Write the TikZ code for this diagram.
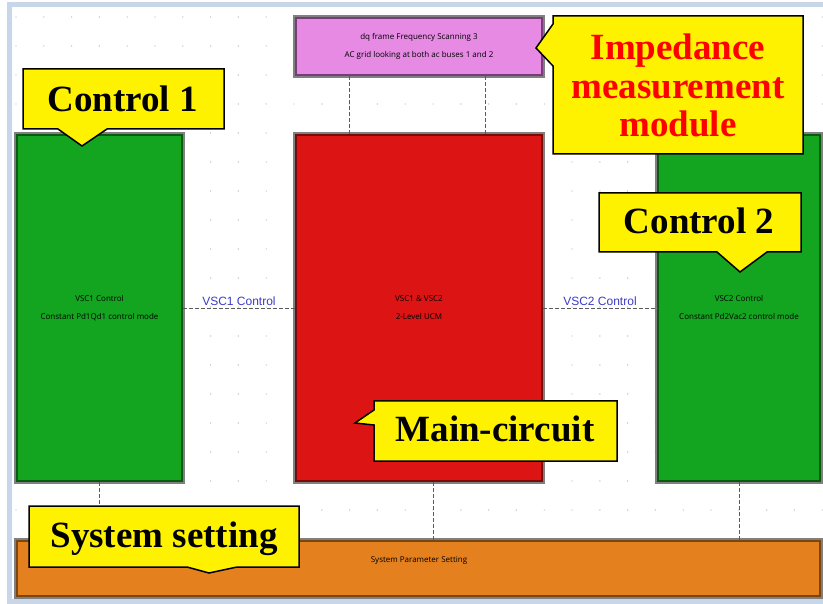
\documentclass[tikz,border=0pt]{standalone}
\usepackage{fontspec}
\setmainfont{Liberation Serif}
\newfontfamily\uifont{Open Sans}
\newfontfamily\arialfont{Liberation Sans}
\definecolor{gfill}{RGB}{20,165,32}
\definecolor{gdark}{RGB}{12,90,18}
\definecolor{rfill}{RGB}{220,20,20}
\definecolor{rdark}{RGB}{120,10,10}
\definecolor{pfill}{RGB}{230,138,228}
\definecolor{pdark}{RGB}{120,60,120}
\definecolor{ofill}{RGB}{228,128,30}
\definecolor{odark}{RGB}{120,70,20}
\definecolor{framec}{RGB}{200,214,234}
\definecolor{lblue}{RGB}{60,60,200}
\definecolor{boxgray}{RGB}{128,128,128}
\definecolor{dotc}{RGB}{185,185,185}
\definecolor{connc}{RGB}{90,90,90}
\begin{document}
\begin{tikzpicture}[x=1pt,y=-1pt,
  blk/.style={rectangle, inner sep=0pt, preaction={draw=boxgray, line width=6pt},
    line width=1.6pt, font=\uifont\fontsize{8}{18}\selectfont, align=center, text=black},
  conn/.style={draw=connc, line width=0.9pt, dash pattern=on 4pt off 2pt},
  lbl/.style={font=\arialfont\fontsize{12}{14}\selectfont, text=lblue, inner sep=1.5pt},
  callout/.style={fill=yellow, draw=black, line width=1.5pt, line join=miter},
  ctext/.style={font=\bfseries\fontsize{37}{38.5}\selectfont, inner sep=0pt},
  small/.style={font=\uifont\fontsize{8}{9}\selectfont, inner sep=0pt}]
\useasboundingbox (0,0) rectangle (823,604);
\fill[white] (0,0) rectangle (823,604);
\draw[framec, line width=5pt] (9.5,4.5) rectangle (845,601.5);
\foreach \i in {0,...,29} {
  \foreach \j in {0,...,20} {
    \fill[dotc] ({16+27.8*\i},{17+29*\j}) circle (0.7pt);
  }
}
% blocks
\node[blk, fill=gfill, draw=gdark, minimum width=165pt, minimum height=346pt] (g1) at (99.5,308)
  {VSC1 Control\\Constant Pd1Qd1 control mode};
\node[blk, fill=rfill, draw=rdark, minimum width=246pt, minimum height=346pt] (red) at (419,308)
  {VSC1 \& VSC2\\2-Level UCM};
\node[blk, fill=gfill, draw=gdark, minimum width=162pt, minimum height=346pt] (g2) at (739,308)
  {VSC2 Control\\Constant Pd2Vac2 control mode};
\node[blk, fill=pfill, draw=pdark, minimum width=246pt, minimum height=57pt] (pink) at (419,46.5)
  {dq frame Frequency Scanning 3\\AC grid looking at both ac buses 1 and 2};
\node[blk, fill=ofill, draw=odark, minimum width=803pt, minimum height=55pt] (org) at (418.5,568.5) {};
\node[small] (ot) at (419,561) {System Parameter Setting};
% connectors
\coordinate (p1) at (349,0);
\coordinate (p2) at (485,0);
\coordinate (m1) at (433.5,0);
\draw[conn] (g1.east) -- (red.west) node[midway, above, lbl] (l1) {VSC1 Control};
\draw[conn] (red.east) -- (g2.west) node[midway, above, lbl] (l2) {VSC2 Control};
\draw[conn] (pink.south -| p1) -- (red.north -| p1);
\draw[conn] (pink.south -| p2) -- (red.north -| p2);
\draw[conn] (g1.south) -- (g1.south |- org.north);
\draw[conn] (red.south -| m1) -- (org.north -| m1);
\draw[conn] (g2.south) -- (g2.south |- org.north);
% callouts
\draw[callout] (23,69) -- (224,69) -- (224,129) -- (107,129) -- (82,146) -- (58,129) -- (23,129) -- cycle;
\node[ctext, anchor=base] (c1) at (122.5,112) {Control 1};
\draw[callout] (553,16) -- (803,16) -- (803,154) -- (553,154) -- (553,66) -- (536,48) -- (553,24) -- cycle;
\node[ctext, text=red, align=center] (c3) at (678,85.7) {Impedance\\measurement\\module};
\draw[callout] (599,193) -- (801,193) -- (801,252) -- (767,252) -- (740,272) -- (717,252) -- (599,252) -- cycle;
\node[ctext, anchor=base] (c2) at (699,234) {Control 2};
\draw[callout] (374,401) -- (617,401) -- (617,461) -- (374,461) -- (374,425) -- (355,423) -- (374,410) -- cycle;
\node[ctext, anchor=base] (c4) at (495,442) {Main-circuit};
\draw[callout] (29,506) -- (299,506) -- (299,567) -- (237,567) -- (209,573) -- (187,567) -- (29,567) -- cycle;
\node[ctext, anchor=base] (c5) at (164,547) {System setting};
\end{tikzpicture}
\end{document}
